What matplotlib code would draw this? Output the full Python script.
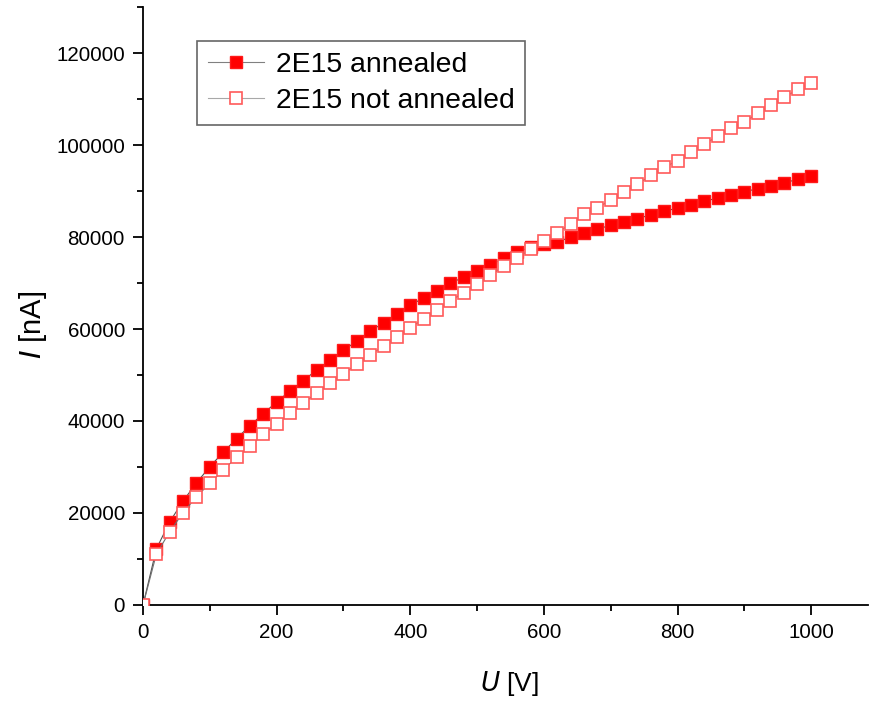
import matplotlib
matplotlib.use("Agg")
import matplotlib.pyplot as plt
from matplotlib.ticker import MultipleLocator

plt.rcParams['font.family'] = ['Liberation Sans', 'DejaVu Sans']

voltage = list(range(0, 1001, 20))
annealed = [0, 12200, 18100, 22600, 26550, 30070, 33190, 36160, 38990, 41600,
            44130, 46550, 48800, 51090, 53190, 55360, 57390, 59570, 61300, 63260,
            65140, 66800, 68330, 69930, 71300, 72540, 73910, 75340, 76780, 77750,
            78480, 78980, 79930, 80940, 81740, 82540, 83330, 83980, 84850, 85580,
            86300, 87020, 87760, 88480, 89130, 89850, 90500, 91150, 91800, 92540,
            93260]
not_annealed = [0, 11090, 15940, 20070, 23550, 26450, 29350, 32100, 34570, 37100,
                39420, 41740, 43840, 46150, 48190, 50220, 52390, 54350, 56300, 58260,
                60290, 62170, 64130, 66150, 67900, 69850, 71670, 73700, 75430, 77350,
                79090, 80940, 82830, 84930, 86370, 88040, 89710, 91450, 93410, 95150,
                96590, 98480, 100150, 101960, 103760, 105000, 106890, 108700, 110370, 112110,
                113540]
labels = ["2E15 annealed", "2E15 not annealed"]

fig = plt.figure(figsize=(8.7, 7.02), dpi=100)
ax = fig.add_axes([0.1644, 0.1382, 0.8333, 0.8518])

ax.plot(voltage, annealed, '-s', color='#505050', lw=0.8,
        markerfacecolor='#ff0000', markeredgecolor='#ff1a1a', markersize=8.8,
        markeredgewidth=1, label=labels[0], zorder=2)
ax.plot(voltage, not_annealed, '-s', color='#707070', lw=0.8,
        markerfacecolor='white', markeredgecolor='#ff5a5a', markersize=8.8,
        markeredgewidth=1.2, label=labels[1], zorder=3)

ax.set_xlim(0, 1085)
ax.set_ylim(0, 130000)
ax.xaxis.set_major_locator(MultipleLocator(200))
ax.xaxis.set_minor_locator(MultipleLocator(100))
ax.yaxis.set_major_locator(MultipleLocator(20000))
ax.yaxis.set_minor_locator(MultipleLocator(10000))

for s in ['top', 'right']:
    ax.spines[s].set_visible(False)
for s in ['left', 'bottom']:
    ax.spines[s].set_linewidth(1.3)

ax.tick_params(which='major', direction='out', length=7, width=1.3, labelsize=14.8, pad=6)
ax.tick_params(which='minor', direction='out', length=4, width=1.3)

ax.set_xlabel(r"$\it{U}$ [V]", fontsize=19)
ax.set_ylabel(r"$\it{I}$ [nA]", fontsize=21)
ax.xaxis.set_label_coords(0.505, -0.107)
ax.yaxis.set_label_coords(-0.13, 0.468)

leg = ax.legend(loc='upper left', bbox_to_anchor=(0.0745, 0.943), fontsize=20.4,
                fancybox=False, frameon=True, edgecolor='#404040',
                handlelength=2.0, handletextpad=0.4, borderpad=0.38,
                labelspacing=0.36, borderaxespad=0)
leg.get_frame().set_linewidth(1.2)
for h, c in zip(leg.get_lines(), ['#808080', '#a8a8a8']):
    h.set_color(c)

fig.savefig("out.png", dpi=100)
